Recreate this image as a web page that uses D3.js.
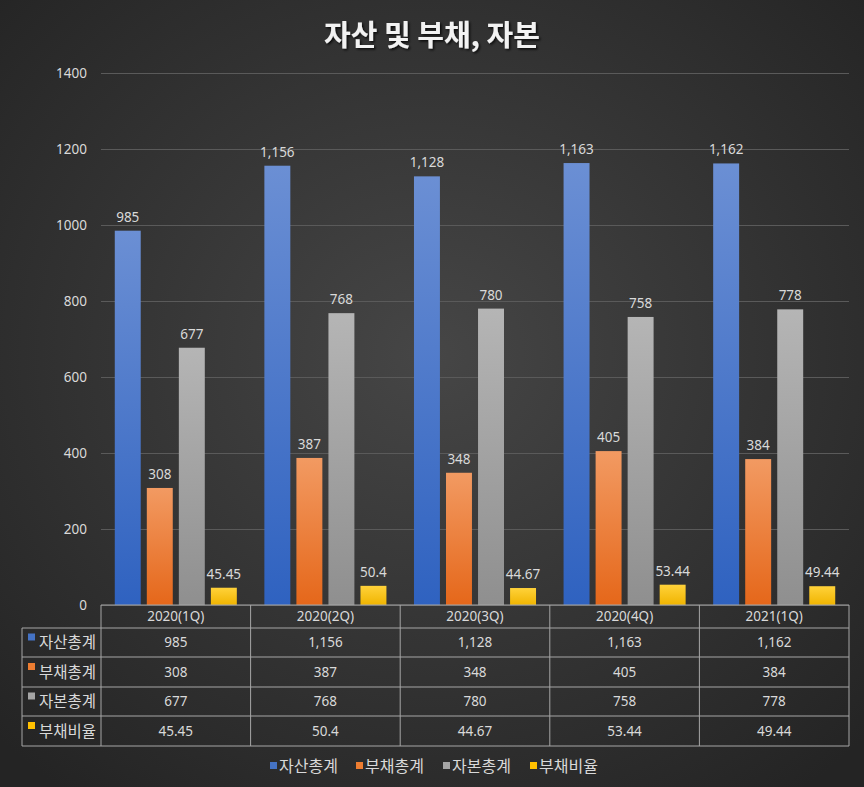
<!DOCTYPE html>
<html>
<head>
<meta charset="utf-8">
<script src="https://cdn.jsdelivr.net/npm/d3@7"></script>
<style>
  body { margin: 0; background: #2b2b2b; }
  svg { display: block; font-family: "Noto Sans CJK KR", "Noto Sans", sans-serif; }
</style>
</head>
<body>
<div id="chart"></div>
<script>
// data
const quarters = ['2020(1Q)', '2020(2Q)', '2020(3Q)', '2020(4Q)', '2021(1Q)'];
const seriesNames = ['자산총계', '부채총계', '자본총계', '부채비율'];
const assets = [985, 1156, 1128, 1163, 1162];
const debts = [308, 387, 348, 405, 384];
const equity = [677, 768, 780, 758, 778];
const debtRatio = [45.45, 50.4, 44.67, 53.44, 49.44];
const yTicks = [0, 200, 400, 600, 800, 1000, 1200, 1400];

const seriesValues = [assets, debts, equity, debtRatio];
const colorsTop = ['#6b8fd4', '#f29a62', '#b5b5b5', '#ffd23a'];
const colorsBottom = ['#2f62c0', '#e5671a', '#8f8f8f', '#f0b400'];
const legendColors = ['#4472c4', '#ed7d31', '#a5a5a5', '#ffc000'];

const width = 864;
const height = 787;
const plot = { left: 101, right: 849, top: 73, bottom: 605 };

const svg = d3.select('#chart')
  .append('svg')
  .attr('width', width)
  .attr('height', height);

const defs = svg.append('defs');

// background
const bg = defs.append('radialGradient')
  .attr('id', 'bg')
  .attr('cx', '50%').attr('cy', '45%').attr('r', '70%');
bg.append('stop').attr('offset', '0%').attr('stop-color', '#464646');
bg.append('stop').attr('offset', '100%').attr('stop-color', '#242424');

svg.append('rect')
  .attr('width', width).attr('height', height)
  .attr('fill', 'url(#bg)');

// bar gradients
seriesNames.forEach((name, i) => {
  const g = defs.append('linearGradient')
    .attr('id', 'grad' + i)
    .attr('x1', 0).attr('y1', 0).attr('x2', 0).attr('y2', 1);
  g.append('stop').attr('offset', '0%').attr('stop-color', colorsTop[i]);
  g.append('stop').attr('offset', '100%').attr('stop-color', colorsBottom[i]);
});

const shadow = defs.append('filter').attr('id', 'shadow')
  .attr('x', '-20%').attr('y', '-20%').attr('width', '140%').attr('height', '140%');
shadow.append('feDropShadow')
  .attr('dx', 1.5).attr('dy', 1.5).attr('stdDeviation', 1)
  .attr('flood-color', '#000').attr('flood-opacity', 0.8);

// title
svg.append('text')
  .attr('x', width / 2)
  .attr('y', 46)
  .attr('text-anchor', 'middle')
  .attr('fill', '#f2f2f2')
  .attr('font-size', 29)
  .attr('font-weight', 'bold')
  .attr('filter', 'url(#shadow)')
  .text('자산 및 부채, 자본');

const xScale = d3.scaleBand()
  .domain(quarters)
  .range([plot.left, plot.right]);

const xInner = d3.scaleBand()
  .domain(seriesNames)
  .range([0, xScale.bandwidth()])
  .paddingInner(0.19)
  .paddingOuter(0.43);

const yScale = d3.scaleLinear()
  .domain([0, 1400])
  .range([plot.bottom, plot.top]);

// gridlines
svg.append('g')
  .attr('class', 'gridlines')
  .attr('transform', `translate(${plot.left}, 0)`)
  .call(d3.axisLeft(yScale).tickValues(yTicks).tickFormat('').tickSize(-(plot.right - plot.left)))
  .call(g => g.select('.domain').remove())
  .call(g => g.selectAll('line').attr('stroke', '#5a5a5a').attr('stroke-width', 1));

// y axis labels
svg.append('g')
  .attr('transform', `translate(${plot.left}, 0)`)
  .call(d3.axisLeft(yScale).tickValues(yTicks).tickFormat(d => d).tickSize(0).tickPadding(14))
  .call(g => g.select('.domain').remove())
  .call(g => g.selectAll('text')
    .attr('fill', '#d9d9d9')
    .attr('font-size', 13.5)
    .style('font-family', '"Noto Sans", sans-serif'));

// bars
const fmt = d3.format(',');
seriesNames.forEach((name, i) => {
  const values = seriesValues[i];
  const grp = svg.append('g').attr('class', 'series');
  grp.selectAll('rect')
    .data(values)
    .join('rect')
    .attr('x', (d, j) => xScale(quarters[j]) + xInner(name))
    .attr('y', d => yScale(d))
    .attr('width', xInner.bandwidth())
    .attr('height', d => yScale(0) - yScale(d))
    .attr('fill', 'url(#grad' + i + ')');
  grp.selectAll('text')
    .data(values)
    .join('text')
    .attr('x', (d, j) => xScale(quarters[j]) + xInner(name) + xInner.bandwidth() / 2)
    .attr('y', d => yScale(d) - 9)
    .attr('text-anchor', 'middle')
    .attr('fill', '#d9d9d9')
    .attr('font-size', 13.5)
    .style('font-family', '"Noto Sans", sans-serif')
    .text(d => fmt(d));
});

// data table
const rowTops = [605, 628, 657, 687, 716, 746];
const labelLeft = 22;
const lineColor = '#a6a6a6';
const table = svg.append('g').attr('class', 'table');

// horizontal lines
table.append('line')
  .attr('x1', plot.left).attr('x2', plot.right)
  .attr('y1', rowTops[0]).attr('y2', rowTops[0])
  .attr('stroke', lineColor);
rowTops.slice(1).forEach(y => {
  table.append('line')
    .attr('x1', labelLeft).attr('x2', plot.right)
    .attr('y1', y).attr('y2', y)
    .attr('stroke', lineColor);
});
// vertical lines
table.append('line')
  .attr('x1', labelLeft).attr('x2', labelLeft)
  .attr('y1', rowTops[1]).attr('y2', rowTops[5])
  .attr('stroke', lineColor);
quarters.forEach(q => {
  table.append('line')
    .attr('x1', xScale(q)).attr('x2', xScale(q))
    .attr('y1', rowTops[0]).attr('y2', rowTops[5])
    .attr('stroke', lineColor);
});
table.append('line')
  .attr('x1', plot.right).attr('x2', plot.right)
  .attr('y1', rowTops[0]).attr('y2', rowTops[5])
  .attr('stroke', lineColor);

// header
table.selectAll('text.head')
  .data(quarters)
  .join('text')
  .attr('class', 'head')
  .attr('x', d => xScale(d) + xScale.bandwidth() / 2)
  .attr('y', (rowTops[0] + rowTops[1]) / 2 + 4.5)
  .attr('text-anchor', 'middle')
  .attr('fill', '#d9d9d9')
  .attr('font-size', 13.5)
  .style('font-family', '"Noto Sans", sans-serif')
  .text(d => d);

seriesNames.forEach((name, i) => {
  const cy = (rowTops[i + 1] + rowTops[i + 2]) / 2;
  table.append('rect')
    .attr('x', 28).attr('y', cy - 9)
    .attr('width', 7).attr('height', 7)
    .attr('fill', legendColors[i]);
  table.append('text')
    .attr('x', 39).attr('y', cy + 5.5)
    .attr('fill', '#d9d9d9')
    .attr('font-size', 15.5)
    .text(name);
  table.selectAll('text.v' + i)
    .data(seriesValues[i])
    .join('text')
    .attr('class', 'v' + i)
    .attr('x', (d, j) => xScale(quarters[j]) + xScale.bandwidth() / 2)
    .attr('y', cy + 4.5)
    .attr('text-anchor', 'middle')
    .attr('fill', '#d9d9d9')
    .attr('font-size', 13.5)
    .style('font-family', '"Noto Sans", sans-serif')
    .text(d => fmt(d));
});

// legend
const legendX = [270, 356, 443, 530];
const legend = svg.append('g').attr('class', 'legend');
seriesNames.forEach((name, i) => {
  legend.append('rect')
    .attr('x', legendX[i]).attr('y', 762)
    .attr('width', 7).attr('height', 7)
    .attr('fill', legendColors[i]);
  legend.append('text')
    .attr('x', legendX[i] + 9).attr('y', 772)
    .attr('fill', '#d9d9d9')
    .attr('font-size', 16)
    .text(name);
});
</script>
</body>
</html>
